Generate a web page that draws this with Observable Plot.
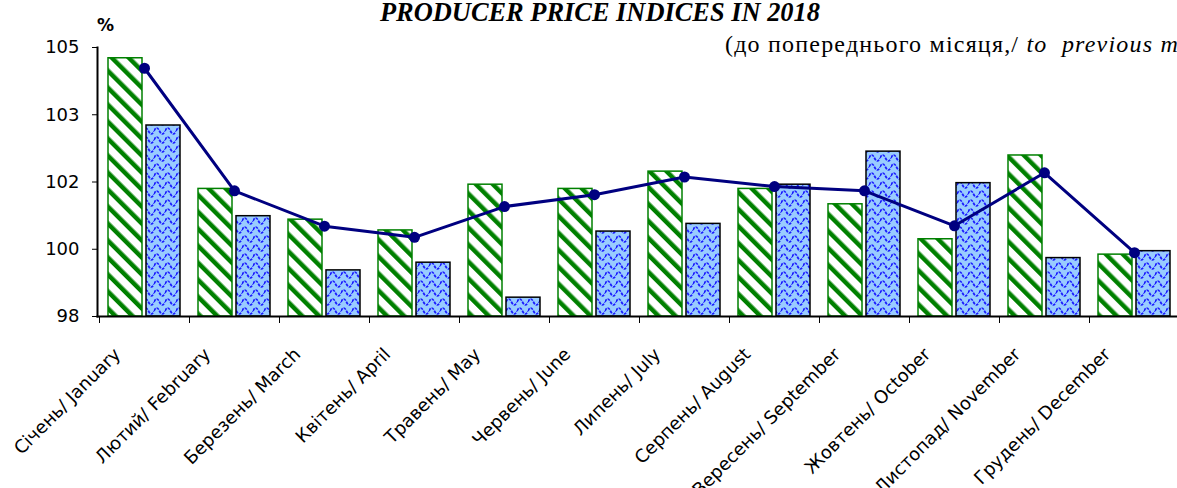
<!DOCTYPE html>
<html><head><meta charset="utf-8">
<script src="https://cdn.jsdelivr.net/npm/d3@7"></script>
<script src="https://cdn.jsdelivr.net/npm/@observablehq/plot@0.6"></script>
<style>
html,body{margin:0;padding:0;background:#fff;overflow:hidden;width:1177px;height:488px}
#wrap{position:relative;width:1177px;height:488px;overflow:hidden}
#chart{position:absolute;left:0;top:0}
#title{position:absolute;left:380px;top:-1px;font:italic bold 26.4px "Liberation Serif","Times New Roman",serif;line-height:1;white-space:nowrap;color:#000}
#sub{position:absolute;left:725px;top:32px;font:24px "Liberation Serif","Times New Roman",serif;letter-spacing:1.2px;line-height:1;white-space:nowrap;color:#000}
#pct{position:absolute;left:97px;top:17px;font:bold 17px "DejaVu Sans",Verdana,sans-serif;line-height:1;color:#000}
</style></head><body>
<div id="wrap"><div id="chart"></div>
<div id="title">PRODUCER PRICE INDICES IN 2018</div>
<div id="sub">(до попереднього місяця,/ <i>to&nbsp; previous month</i>)</div>
<div id="pct">%</div>
</div>
<script>
const months = ["Січень/ January","Лютий/ February","Березень/ March","Квітень/ April","Травень/ May","Червень/ June","Липень/ July","Серпень/ August","Вересень/ September","Жовтень/ October","Листопад/ November","Грудень/ December"];
const greenSeries = [104.72, 101.32, 100.52, 100.24, 101.43, 101.32, 101.77, 101.32, 100.92, 100.01, 102.19, 99.61];
const blueSeries = [102.97, 100.61, 99.20, 99.40, 98.49, 100.21, 100.41, 101.43, 102.29, 101.47, 99.52, 99.70];
const lineSeries = [104.46, 101.27, 100.35, 100.06, 100.86, 101.17, 101.63, 101.38, 101.27, 100.36, 101.74, 99.66];
const yTicks = [98, 99.75, 101.5, 103.25, 105];
const yDomain = [98, 105];

const rows = months.map((m, i) => ({month: m, a: greenSeries[i], b: blueSeries[i], t: lineSeries[i]}));

const chart = Plot.plot({
  width: 1177, height: 488,
  marginLeft: 97, marginRight: -4, marginTop: 47, marginBottom: 172,
  style: {fontFamily: "'DejaVu Sans', Verdana, sans-serif", fontSize: "18px", background: "transparent", color: "#000"},
  x: {domain: months, padding: 0, label: null},
  y: {domain: yDomain, label: null},
  marks: [
    Plot.barY(rows, {x: "month", y1: yDomain[0], y2: "a", insetLeft: 9, insetRight: 47, fill: "url(#stripes)", stroke: "#008000", strokeWidth: 1.5}),
    Plot.barY(rows, {x: "month", y1: yDomain[0], y2: "b", insetLeft: 47, insetRight: 9, fill: "url(#waves)", stroke: "#000", strokeWidth: 1.5}),
    Plot.frame({anchor: "left", strokeWidth: 2}),
    Plot.frame({anchor: "bottom", strokeWidth: 2}),
    Plot.axisY({ticks: yTicks, tickFormat: d3.format(".0f"), tickSize: 5, tickPadding: 13, label: null, fontSize: 18}),
    Plot.axisX({tickSize: 7, dx: -45, tickFormat: () => "", label: null}),
    Plot.axisX({tickSize: 0, tickRotate: -45, dx: -27, dy: 23, label: null, fontSize: 18}),
    Plot.line(rows, {x: "month", y: "t", stroke: "#000080", strokeWidth: 3}),
    Plot.dot(rows, {x: "month", y: "t", r: 5.5, fill: "#000080"})
  ]
});

d3.select(chart).insert("defs", ":first-child").html(`
  <pattern id="stripes" patternUnits="userSpaceOnUse" width="12" height="12" patternTransform="rotate(-45)">
    <rect width="12" height="12" fill="#fff"/>
    <rect x="0" y="0" width="4.5" height="12" fill="#008000"/>
  </pattern>
  <pattern id="waves" patternUnits="userSpaceOnUse" width="11" height="9">
    <rect width="11" height="9" fill="#99ccff"/>
    <path d="M0,5 C2,1 3.5,1 5.5,5 C7.5,9 9,9 11,5" fill="none" stroke="#1a1aff" stroke-width="1.7" stroke-dasharray="3,1"/>
  </pattern>`);

document.getElementById("chart").appendChild(chart);
</script>
</body></html>
